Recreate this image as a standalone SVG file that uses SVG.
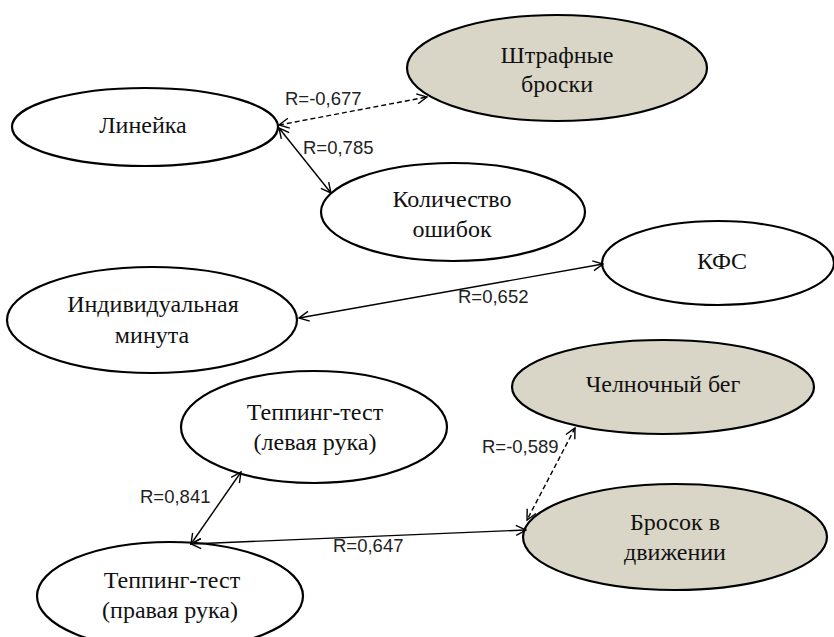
<svg xmlns="http://www.w3.org/2000/svg" width="834" height="637" viewBox="0 0 834 637">
<defs>
<marker id="arr" viewBox="0 0 12 12" refX="11" refY="6" markerWidth="12" markerHeight="12" markerUnits="userSpaceOnUse" orient="auto-start-reverse">
<path d="M1,1 L11,6 L1,11" fill="none" stroke="#000" stroke-width="1.4"/>
</marker>
</defs>
<style>
.n ellipse{stroke:#000;stroke-width:2.2;fill:#fff}
.n.g ellipse{fill:#d9d6c7}
.n text{font-family:"Liberation Serif","Times New Roman",serif;font-size:24px;fill:#111;text-anchor:middle}
.c line{stroke:#000;stroke-width:1.4;marker-start:url(#arr);marker-end:url(#arr)}
.c line.d{stroke-dasharray:5,3}
.c text{font-family:"Liberation Sans",Arial,sans-serif;font-size:18.5px;fill:#222}
</style>
<rect width="834" height="637" fill="#fff"/>
<g id="lineika" class="n"><ellipse cx="145" cy="127" rx="133" ry="39"/><text x="143" y="133">Линейка</text></g>
<g id="shtrafnye" class="n g"><ellipse cx="557" cy="68" rx="150" ry="53"/><text x="557" y="63">Штрафные</text><text x="557" y="92">броски</text></g>
<g id="kolichestvo" class="n"><ellipse cx="453" cy="212" rx="132" ry="49"/><text x="452" y="207">Количество</text><text x="452" y="237">ошибок</text></g>
<g id="kfs" class="n"><ellipse cx="718" cy="263" rx="116" ry="42"/><text x="722" y="269">КФС</text></g>
<g id="individ" class="n"><ellipse cx="152" cy="320" rx="145" ry="53"/><text x="153" y="312">Индивидуальная</text><text x="152" y="343">минута</text></g>
<g id="tepping-l" class="n"><ellipse cx="314" cy="427" rx="133" ry="56"/><text x="315" y="420">Теппинг-тест</text><text x="315" y="450">(левая рука)</text></g>
<g id="tepping-r" class="n"><ellipse cx="170" cy="596" rx="133" ry="54"/><text x="172" y="588">Теппинг-тест</text><text x="170" y="618">(правая рука)</text></g>
<g id="chelnochny" class="n g"><ellipse cx="663" cy="387" rx="151" ry="47"/><text x="663" y="392">Челночный бег</text></g>
<g id="brosok" class="n g"><ellipse cx="675" cy="537" rx="152" ry="53"/><text x="675" y="530">Бросок в</text><text x="675" y="560">движении</text></g>
<g id="connectors" class="c">
<line class="d" x1="279" y1="125" x2="427" y2="97"/>
<text x="285" y="105">R=-0,677</text>
<line x1="279" y1="128" x2="331" y2="193"/>
<text x="303" y="154">R=0,785</text>
<line x1="299" y1="318" x2="603" y2="264"/>
<text x="458" y="303">R=0,652</text>
<line x1="241" y1="472" x2="191" y2="544"/>
<text x="140" y="503">R=0,841</text>
<line x1="191" y1="544" x2="526" y2="530"/>
<text x="333" y="552">R=0,647</text>
<line class="d" x1="575" y1="428" x2="527" y2="520"/>
<text x="482" y="453">R=-0,589</text>
</g>
</svg>
